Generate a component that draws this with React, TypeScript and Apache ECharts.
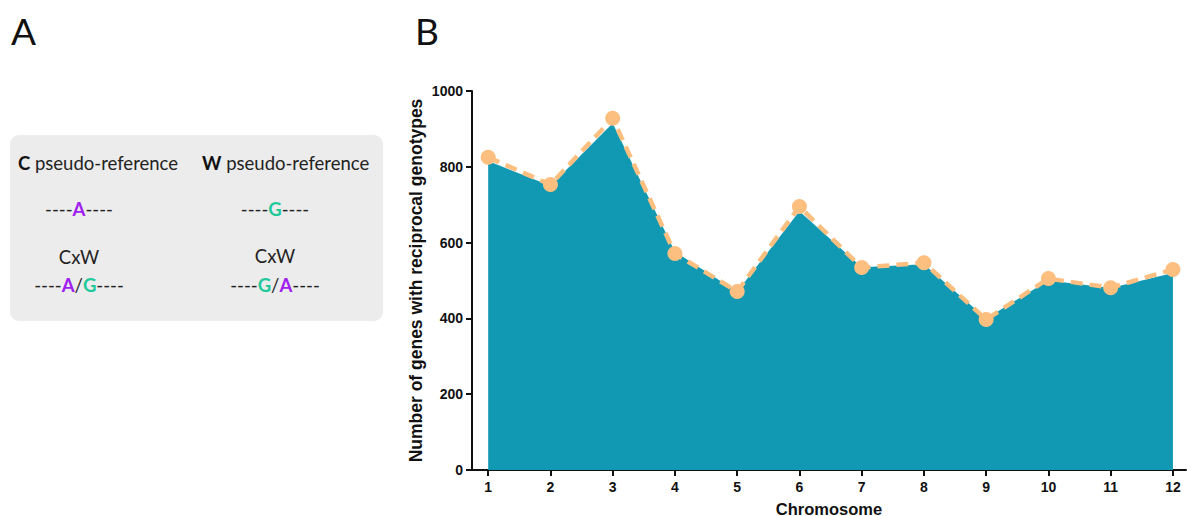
import React, { useEffect, useRef } from "react";
import * as echarts from "echarts";

// Chromosomes on the x axis
const chromosomes = [1, 2, 3, 4, 5, 6, 7, 8, 9, 10, 11, 12];
// Genes with reciprocal genotypes per chromosome (dashed line + markers)
const geneCounts = [825, 753, 928, 571, 471, 695, 534, 547, 397, 505, 481, 529];
// Filled area beneath the line
const areaCounts = [815, 750, 915, 576, 470, 683, 535, 543, 400, 500, 480, 520];
const yTicks = [0, 200, 400, 600, 800, 1000];

const TEAL = "#1199b3";
const PEACH = "#fdbf80";
const PURPLE = "#a020f0";
const GREEN = "#1fc99a";

export default function App() {
  const ref = useRef<HTMLDivElement>(null);

  useEffect(() => {
    if (!ref.current) return;
    const chart = echarts.init(ref.current, null, { renderer: "svg" });

    const FS = 18.5;
    const richA = {
      d: { fontFamily: "Lato", fontSize: FS, fill: "#222" },
      a: { fontFamily: "Lato", fontSize: FS, fontWeight: "bold", fill: PURPLE },
      g: { fontFamily: "Lato", fontSize: FS, fontWeight: "bold", fill: GREEN },
      b: { fontFamily: "Lato", fontSize: FS, fontWeight: "bold", fill: "#111" },
    };
    const t = (x: number, y: number, text: string, align = "center") => ({
      type: "text",
      x,
      y,
      style: {
        text,
        rich: richA,
        fontFamily: "Lato",
        fontSize: FS,
        fill: "#222",
        align,
        verticalAlign: "middle",
      },
    });

    const tickFont = { fontFamily: "Liberation Sans", fontWeight: "bold", fontSize: 14, color: "#111" };
    const titleFont = { fontFamily: "Liberation Sans", fontWeight: "bold", fontSize: 16.5, color: "#111" };

    chart.setOption({
      animation: false,
      grid: { left: 472, right: 1, top: 91, bottom: 46, containLabel: false, outerBoundsMode: "none" },
      xAxis: {
        type: "value",
        min: 0.74,
        max: 12.21,
        name: "Chromosome",
        nameLocation: "middle",
        nameGap: 30,
        nameMoveOverlap: false,
        nameTextStyle: titleFont,
        splitLine: { show: false },
        axisLine: { lineStyle: { color: "#111", width: 2 } },
        axisTick: { show: true, customValues: chromosomes, length: 6, lineStyle: { color: "#111", width: 2 } },
        axisLabel: { customValues: chromosomes, ...tickFont, margin: 10 },
      },
      yAxis: {
        type: "value",
        min: 0,
        max: 1000,
        interval: 200,
        name: "Number of genes with reciprocal genotypes",
        nameLocation: "middle",
        nameGap: 47,
        nameMoveOverlap: false,
        nameTextStyle: { ...titleFont, fontSize: 17.5 },
        splitLine: { show: false },
        axisLine: { show: true, lineStyle: { color: "#111", width: 2 } },
        axisTick: { show: true, length: 6, lineStyle: { color: "#111", width: 2 } },
        axisLabel: {
          customValues: yTicks,
          formatter: (v: number) => String(v),
          ...tickFont,
          margin: 9,
        },
      },
      series: [
        {
          type: "line",
          data: chromosomes.map((c, i) => [c, areaCounts[i]]),
          symbol: "none",
          lineStyle: { width: 0 },
          areaStyle: { color: TEAL, opacity: 1 },
          z: 1,
        },
        {
          type: "line",
          data: chromosomes.map((c, i) => [c, geneCounts[i]]),
          symbol: "circle",
          symbolSize: 15,
          itemStyle: { color: PEACH },
          lineStyle: { color: PEACH, width: 4.5, type: [12, 7] },
          z: 3,
        },
      ],
      graphic: [
        {
          type: "text",
          x: 11,
          y: 12,
          style: { text: "A", fontFamily: "Lato", fontSize: 37, fill: "#111" },
        },
        {
          type: "text",
          x: 415,
          y: 12,
          style: { text: "B", fontFamily: "Lato", fontSize: 37, fill: "#111" },
        },
        {
          type: "rect",
          shape: { x: 10, y: 135, width: 373, height: 186, r: 9 },
          style: { fill: "#ececec" },
          z: -1,
        },
        t(18, 163, "{b|C} pseudo-reference", "left"),
        t(202, 163, "{b|W} pseudo-reference", "left"),
        t(79, 209, "----{a|A}----"),
        t(275, 209, "----{g|G}----"),
        t(79, 257, "CxW"),
        t(275, 256, "CxW"),
        t(79, 285, "----{a|A}/{g|G}----"),
        t(275, 285, "----{g|G}/{a|A}----"),
      ],
    });

    return () => chart.dispose();
  }, []);

  return (
    <div
      ref={ref}
      style={{ position: "fixed", left: 0, top: 0, width: 1187, height: 516, background: "#fff" }}
    />
  );
}
